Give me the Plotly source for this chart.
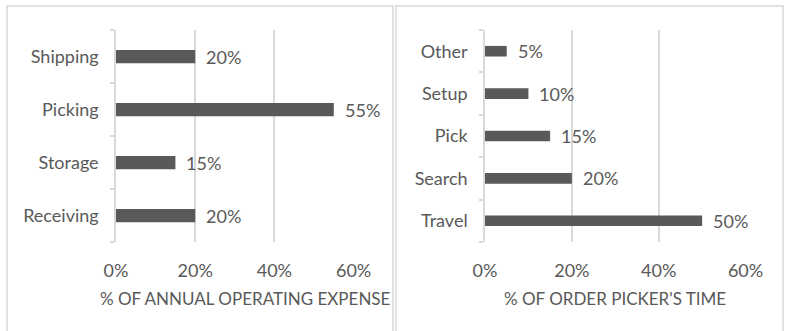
import plotly.graph_objects as go
from plotly.subplots import make_subplots

# Share of annual warehouse operating expense
expense_categories = ["Receiving", "Storage", "Picking", "Shipping"]
expense_values = [20, 15, 55, 20]
expense_title = "% OF ANNUAL OPERATING EXPENSE"

# Breakdown of an order picker's time
picker_categories = ["Travel", "Search", "Pick", "Setup", "Other"]
picker_values = [50, 20, 15, 10, 5]
picker_title = "% OF ORDER PICKER'S TIME"

x_ticks = [0, 20, 40, 60]
x_tick_labels = ["0%", "20%", "40%", "60%"]

W, H = 786, 331
BAR = "#595959"
TXT = "#595959"
GRID = "#d9d9d9"
FONT = "Lato"
FS = 18


def px_x(p):
    return p / W


def px_y(p):
    return (H - p) / H


fig = make_subplots(rows=1, cols=2)

fig.add_trace(go.Bar(y=expense_categories, x=expense_values, orientation="h",
                     marker=dict(color=BAR, line=dict(width=0)), hoverinfo="skip"),
              row=1, col=1)
fig.add_trace(go.Bar(y=picker_categories, x=picker_values, orientation="h",
                     marker=dict(color=BAR, line=dict(width=0)), hoverinfo="skip"),
              row=1, col=2)

y_top, y_bot = px_y(30), px_y(242)
fig.update_layout(
    xaxis=dict(domain=[px_x(116), px_x(354)]),
    xaxis2=dict(domain=[px_x(485), px_x(746)]),
    yaxis=dict(domain=[y_bot, y_top]),
    yaxis2=dict(domain=[y_bot, y_top]),
)

fig.update_xaxes(range=[0, 60.1], tickvals=x_ticks, ticktext=x_tick_labels,
                 showgrid=True, gridcolor=GRID, gridwidth=1.5,
                 zeroline=False, showline=False, automargin=False,
                 ticks="outside", ticklen=12, tickcolor="rgba(0,0,0,0)",
                 tickfont=dict(family=FONT, size=FS, color=TXT),
                 fixedrange=True)
fig.update_yaxes(type="category", showgrid=False, zeroline=False,
                 showline=True, linecolor=GRID, linewidth=1.5, automargin=False,
                 ticks="outside", tickson="boundaries", ticklen=4,
                 tickcolor=GRID, tickwidth=1.5, ticklabelstandoff=12,
                 tickfont=dict(family=FONT, size=FS, color=TXT),
                 fixedrange=True)

annotations = []
for cats, vals, xr, yr in [(expense_categories, expense_values, "x", "y"),
                           (picker_categories, picker_values, "x2", "y2")]:
    for c, v in zip(cats, vals):
        annotations.append(dict(x=v, y=c, xref=xr, yref=yr, text=f"{v}%",
                                showarrow=False, xanchor="left", xshift=9,
                                font=dict(family=FONT, size=FS, color=TXT)))

annotations.append(dict(x=px_x(245.5), y=px_y(298), xref="paper", yref="paper",
                        text=expense_title, showarrow=False,
                        xanchor="center", yanchor="middle",
                        font=dict(family=FONT, size=17, color=TXT)))
annotations.append(dict(x=px_x(615), y=px_y(298), xref="paper", yref="paper",
                        text=picker_title, showarrow=False,
                        xanchor="center", yanchor="middle",
                        font=dict(family=FONT, size=17, color=TXT)))

# Panel frames (open at the bottom edge of the image)
shapes = []
for x0, x1 in [(7, 393), (396, 783)]:
    shapes.append(dict(type="path", xref="paper", yref="paper",
                       path=(f"M {px_x(x0)} {px_y(340)} L {px_x(x0)} {px_y(6)} "
                             f"L {px_x(x1)} {px_y(6)} L {px_x(x1)} {px_y(340)}"),
                       line=dict(color=GRID, width=1.5)))

fig.update_layout(
    width=W, height=H,
    margin=dict(l=0, r=0, t=0, b=0, autoexpand=False),
    paper_bgcolor="white", plot_bgcolor="white",
    bargap=0.75, showlegend=False,
    annotations=annotations, shapes=shapes,
)

fig.write_html("out.html")
